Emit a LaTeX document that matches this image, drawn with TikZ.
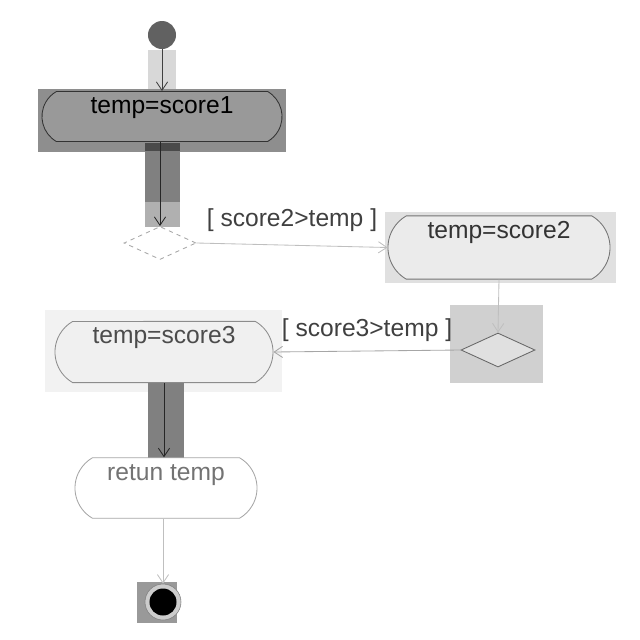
\documentclass[tikz,border=0pt]{standalone}
\usepackage{fontspec}
\setmainfont{Liberation Sans}
\usepackage{xcolor}
\usepackage{tikz}
\usetikzlibrary{arrows.meta, positioning, shapes.geometric, shapes.misc}

\definecolor{hlstart}{HTML}{D8D8D8}
\definecolor{hlone}{HTML}{8E8E8E}
\definecolor{boxone}{HTML}{999999}
\definecolor{bardark}{HTML}{4A4A4A}
\definecolor{barmid}{HTML}{808080}
\definecolor{barlight}{HTML}{B0B0B0}
\definecolor{hltwo}{HTML}{E0E0E0}
\definecolor{hldec}{HTML}{D0D0D0}
\definecolor{hlthree}{HTML}{F2F2F2}
\definecolor{hlend}{HTML}{999999}

\begin{document}
\begin{tikzpicture}[x=0.025cm, y=-0.025cm,
  action/.style={rounded rectangle, rounded rectangle arc length=120, draw=#1, line width=0.6pt,
    inner xsep=0pt, inner ysep=3pt, text height=13pt, font=\fontsize{17.5}{20}\selectfont},
  decision/.style={diamond, draw=#1, line width=0.6pt, inner sep=0pt},
  flow/.style={draw=#1, line width=0.6pt, -{Straight Barb[length=6pt,width=8pt]}},
  guard/.style={font=\fontsize{17.5}{20}\selectfont, text=black!75, inner sep=1pt}]

\useasboundingbox (0,0) rectangle (640,640);

% Highlights
\fill[hlstart] (148,50) rectangle (176,89);
\fill[hlone] (38,89) rectangle (286,152);
\fill[barmid] (145,150) rectangle (180,202);
\fill[bardark] (145,143) rectangle (180,151);
\fill[barlight] (145,202) rectangle (180,227);
\fill[hltwo] (385,212) rectangle (616,283);
\fill[hldec] (450,305) rectangle (543,383);
\fill[hlthree] (45,310) rectangle (282,392);
\fill[barmid] (148,382) rectangle (184,460);
\fill[hlend] (137,582) rectangle (177,623);

% Start
\node[circle, fill=black!62, minimum size=0.7cm, inner sep=0pt] (start) at (162,35) {};

% Actions
\node[action=black!80, fill=boxone, minimum width=6cm, text depth=16.6pt] (score1) at (162,116.5) {temp=score1};
\node[action=black!55, fill=black!8, minimum width=5.55cm, text depth=26pt, text=black!80] (score2) at (499,247.5) {temp=score2};
\node[action=black!45, fill=black!6, minimum width=5.45cm, text depth=24.5pt, text=black!70] (score3) at (164,352) {temp=score3};
\node[action=black!35, fill=white, minimum width=4.55cm, text depth=24pt, text=black!55] (ret) at (166,488) {retun temp};

% Decisions
\node[decision=black!35, dashed, fill=white, minimum width=1.8cm, minimum height=0.825cm] (dec1) at (160,243) {};
\node[decision=black!60, fill=black!12, minimum width=1.85cm, minimum height=0.85cm] (dec2) at (498,350) {};

% End
\node[circle, draw=black!50, fill=black!20, minimum size=0.9cm, inner sep=0pt] (stop) at (163,602) {};
\node[circle, fill=black, minimum size=0.675cm, inner sep=0pt] (stopin) at (stop) {};

% Flows
\draw[flow=black!75] (start) -- (score1.north -| start);
\draw[flow=black!85] (score1.south -| dec1.north) -- (dec1.north);
\draw[flow=black!25] (dec1.east) -- (score2.west)
  node[guard, midway, above=0.3cm] {[ score2>temp ]};
\draw[flow=black!25] (score2.south) -- (dec2.north);
\draw[flow=black!35] (dec2.west) -- (score3.east)
  node[guard, midway, above=0.2cm] {[ score3>temp ]};
\draw[flow=black!85] (score3.south) -- (ret.north -| score3.south);
\draw[flow=black!25] (ret.south -| stop) -- (stop.north);

\end{tikzpicture}
\end{document}
